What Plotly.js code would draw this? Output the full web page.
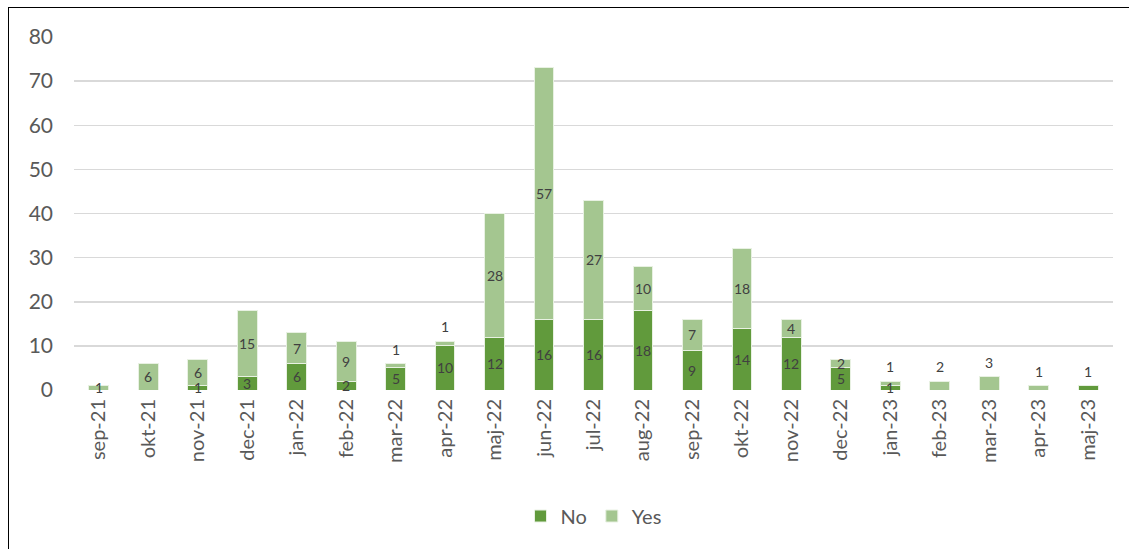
<!DOCTYPE html>
<html>
<head>
<meta charset="utf-8">
<script src="https://cdn.plot.ly/plotly-3.0.1.min.js"></script>
<style>
  html, body { margin:0; padding:0; background:#fff; }
  #wrap { position:relative; width:1129px; height:549px; overflow:hidden; }
  #chart { position:absolute; left:0; top:0; width:1129px; height:549px; }
  #frame { position:absolute; left:8px; top:7px; width:1200px; height:600px; border:1.5px solid #000; pointer-events:none; }
</style>
</head>
<body>
<div id="wrap"><div id="chart"></div><div id="frame"></div></div>
<script>
const categories = ["sep-21","okt-21","nov-21","dec-21","jan-22","feb-22","mar-22","apr-22","maj-22","jun-22","jul-22","aug-22","sep-22","okt-22","nov-22","dec-22","jan-23","feb-23","mar-23","apr-23","maj-23"];
const noValues  = [0,0,1,3,6,2,5,10,12,16,16,18,9,14,12,5,1,0,0,0,1];
const yesValues = [1,6,6,15,7,9,1,1,28,57,27,10,7,18,4,2,1,2,3,1,0];
// labels Excel shows above the bar instead of centred
const liftedYes = ["mar-22","apr-22","jan-23","feb-23","mar-23","apr-23"];
const liftedNo  = ["maj-23"];

const darkGreen = "#619A3C";
const lightGreen = "#A4C690";

const traces = [
  {type:"bar", name:"No", x:categories, y:noValues, marker:{color:darkGreen, line:{color:"#e8f1e2", width:1}}},
  {type:"bar", name:"Yes", x:categories, y:yesValues, marker:{color:lightGreen, line:{color:"#e8f1e2", width:1}}}
];

function lf(){ return {family:"Lato, 'Open Sans', sans-serif", size:14, color:"#404040"}; }
const annotations = [];
categories.forEach((c,i)=>{
  const total = noValues[i] + yesValues[i];
  if (noValues[i] > 0) {
    if (liftedNo.includes(c)) {
      annotations.push({x:c, y:total, text:String(noValues[i]), showarrow:false, yanchor:"bottom", yshift:4, font:lf()});
    } else {
      annotations.push({x:c, y:noValues[i]/2, text:String(noValues[i]), showarrow:false, yanchor:"middle", font:lf()});
    }
  }
  if (yesValues[i] > 0) {
    if (liftedYes.includes(c)) {
      annotations.push({x:c, y:total, text:String(yesValues[i]), showarrow:false, yanchor:"bottom", yshift:4, font:lf()});
    } else {
      annotations.push({x:c, y:noValues[i] + yesValues[i]/2, text:String(yesValues[i]), showarrow:false, yanchor:"middle", font:lf()});
    }
  }
});

const layout = {
  width:1129, height:549,
  margin:{l:74, r:16, t:37, b:159},
  barmode:"stack",
  bargap:0.6,
  paper_bgcolor:"#fff",
  plot_bgcolor:"#fff",
  font:{family:"Lato, 'Open Sans', sans-serif", color:"#595959"},
  xaxis:{
    type:"category",
    tickangle:-90,
    tickfont:{size:20, color:"#595959"},
    showgrid:false, showline:false, zeroline:false,
    ticks:"", ticklabelstandoff:4
  },
  yaxis:{
    range:[0,80], dtick:10,
    tickfont:{size:21, color:"#595959"},
    gridcolor:"#D9D9D9", gridwidth:1.5,
    zeroline:false, showline:false,
    ticklabelstandoff:20
  },
  legend:{
    orientation:"h", x:0.5, xanchor:"center", y:-0.357, yanchor:"middle",
    font:{size:20, color:"#595959"}, traceorder:"normal"
  },
  annotations:annotations,
  showlegend:true
};

Plotly.newPlot("chart", traces, layout, {displayModeBar:false, staticPlot:true});
</script>
</body>
</html>
